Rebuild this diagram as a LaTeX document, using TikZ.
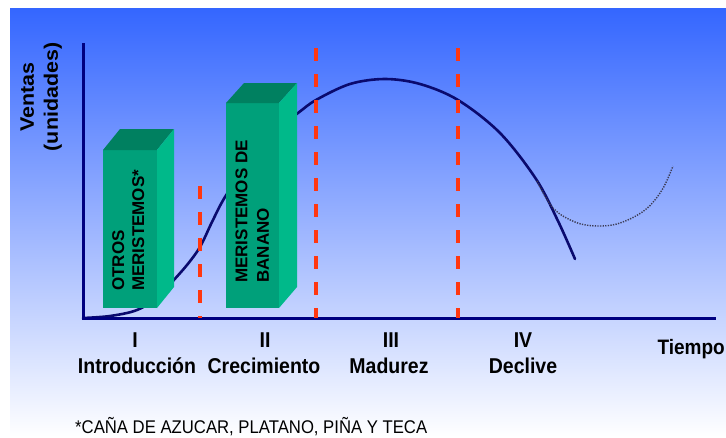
\documentclass[tikz,border=0pt]{standalone}
\usepackage{fontspec}
\setmainfont{Liberation Sans}
\usepackage{graphicx}
\definecolor{bgtop}{RGB}{52,102,255}
\definecolor{axisblue}{RGB}{0,0,128}
\definecolor{curveblue}{RGB}{10,10,110}
\definecolor{dashred}{RGB}{255,55,15}
\definecolor{boxfront}{RGB}{0,160,122}
\definecolor{boxtop}{RGB}{0,128,96}
\definecolor{boxside}{RGB}{0,185,138}
\definecolor{dotgray}{RGB}{60,60,85}
\newcommand{\vstr}[1]{\scalebox{1}[1.1]{#1}}
\newcommand{\hstr}[1]{\scalebox{1.1}[1]{#1}}
\tikzset{
  axisline/.style={draw=axisblue, line width=3pt},
  curveline/.style={draw=curveblue, line width=2.6pt, line cap=round},
  dotline/.style={draw=dotgray, line width=1.4pt, dash pattern=on 1.3pt off 1.3pt},
  phase/.style={draw=dashred, line width=3.4pt, dash pattern=on 13pt off 13pt},
  boxtext/.style={rotate=90, inner sep=0pt, anchor=north west},
  stagelabel/.style={inner sep=0pt, anchor=base, font=\fontsize{19.5}{23}\selectfont\bfseries},
}
\begin{document}
\begin{tikzpicture}[x=1pt,y=-1pt]
\useasboundingbox (0,0) rectangle (726,437);
\fill[white] (0,0) rectangle (726,437);
\shade[top color=bgtop, bottom color=white] (10,8) rectangle (726,437);

% sales curve
\draw[curveline] plot[smooth, tension=0.55] coordinates {
  (83,318) (110,316) (137,310) (160,296) (173,281) (187,265) (200,247)
  (212,222) (225,197) (250,160) (275,130) (298,113) (316,100) (350,84)
  (385,79) (420,84) (458,100) (500,133) (536,179) (558,221) (575,259)};
% renewed sales (dotted)
\draw[dotline] plot[smooth, tension=0.6] coordinates {
  (537,181) (553,208) (575,222) (597,226) (620,223) (645,210) (662,190) (673,166)};

% axes
\draw[axisline] (83,43) -- (83,318) -- (716,318);

% phase separators
\coordinate (d1t) at (200,186); \coordinate (d1b) at (200,318);
\coordinate (d2t) at (316,48);  \coordinate (d2b) at (316,318);
\coordinate (d3t) at (458,48);  \coordinate (d3b) at (458,318);
\draw[phase] (d1t) -- (d1b);
\draw[phase] (d2t) -- (d2b);
\draw[phase] (d3t) -- (d3b);

% box 1
\fill[boxfront] (103,150) rectangle (157,308);
\fill[boxtop] (103,150) -- (120,129) -- (174,129) -- (157,150) -- cycle;
\fill[boxside] (157,150) -- (174,129) -- (174,287) -- (157,308) -- cycle;
\node[boxtext, font=\fontsize{17}{20}\selectfont\bfseries] (b1) at (110,291)
  {\begin{tabular}{@{}l@{}}OTROS\\MERISTEMOS*\end{tabular}};

% box 2
\fill[boxfront] (226,103) rectangle (279,308);
\fill[boxtop] (226,103) -- (244,83) -- (297,83) -- (279,103) -- cycle;
\fill[boxside] (279,103) -- (297,83) -- (297,287) -- (279,308) -- cycle;
\node[boxtext, font=\fontsize{17}{21.5}\selectfont\bfseries] (b2) at (232,283)
  {\begin{tabular}{@{}l@{}}MERISTEMOS DE\\BANANO\end{tabular}};

% y axis label
\node[rotate=90, font=\fontsize{19.5}{24}\selectfont\bfseries] (ylab) at (41,97)
  {\hstr{\begin{tabular}{@{}c@{}}Ventas\\(unidades)\end{tabular}}};

% stage labels
\node[stagelabel] (n1) at (135,347) {\vstr{I}};
\node[stagelabel] (s1) at (137,373) {\vstr{Introducción}};
\node[stagelabel] (n2) at (265,347) {\vstr{II}};
\node[stagelabel] (s2) at (264,373) {\vstr{Crecimiento}};
\node[stagelabel] (n3) at (391,347) {\vstr{III}};
\node[stagelabel] (s3) at (389,373) {\vstr{Madurez}};
\node[stagelabel] (n4) at (523,347) {\vstr{IV}};
\node[stagelabel] (s4) at (523,373) {\vstr{Declive}};
\node[stagelabel, anchor=base east, font=\fontsize{19}{23}\selectfont\bfseries] (xlab) at (725,354) {\vstr{Tiempo}};

% footnote
\node[inner sep=0pt, anchor=base west, font=\fontsize{16.7}{20}\selectfont] (foot) at (75,433)
  {\vstr{*CAÑA DE AZUCAR, PLATANO, PIÑA Y TECA}};
\end{tikzpicture}
\end{document}
